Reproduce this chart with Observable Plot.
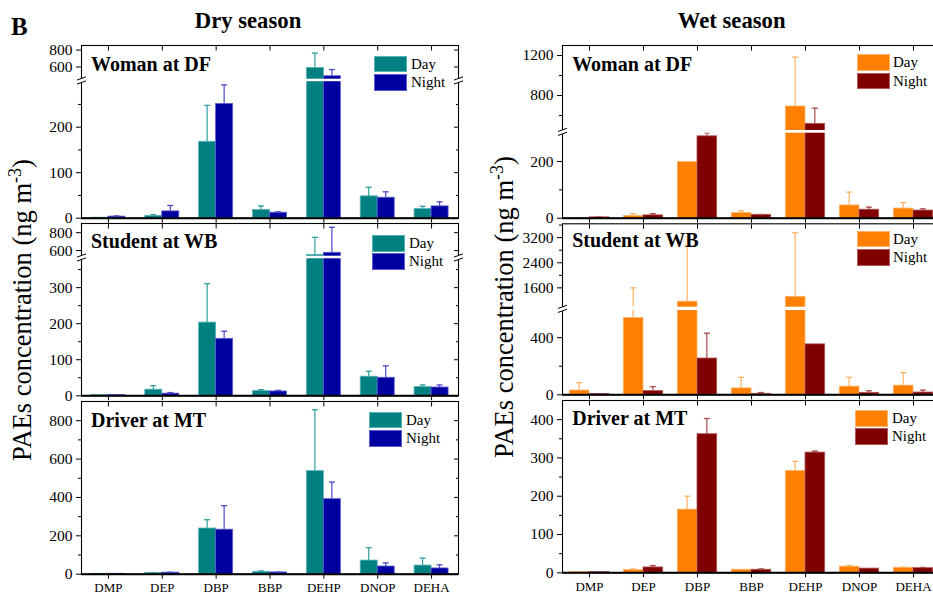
<!DOCTYPE html>
<html><head><meta charset="utf-8">
<script src="https://cdn.jsdelivr.net/npm/d3@7"></script>
<script src="https://cdn.jsdelivr.net/npm/@observablehq/plot@0.6"></script>
<style>
html,body{margin:0;padding:0;background:#fff;}
#fig{position:relative;width:933px;height:596px;overflow:hidden;font-family:"Liberation Serif","Times New Roman",serif;color:#000;background:#fff;}
.t{position:absolute;white-space:nowrap;font-family:"Liberation Serif","Times New Roman",serif;}
.ylab{position:absolute;white-space:nowrap;transform:translate(-50%,-50%) rotate(-90deg);font-family:"Liberation Serif","Times New Roman",serif;font-size:26.5px;line-height:1;}
.sw{position:absolute;box-sizing:border-box;border:1px solid;}
.lt{position:absolute;white-space:nowrap;font-size:15px;font-family:"Liberation Serif","Times New Roman",serif;}
.panel{position:absolute;}
</style></head>
<body><div id="fig"></div>
<script>
// ---------------- data ----------------
const categories = ["DMP","DEP","DBP","BBP","DEHP","DNOP","DEHA"];
const seasons = ["Dry season","Wet season"];
const sites = ["Woman at DF","Student at WB","Driver at MT"];
const seriesNames = ["Day","Night"];

// Dry season (mean, SD) in ng m-3
const dryDF_day      = [1, 5, 168, 18, 588, 48, 20];
const dryDF_daySD    = [0, 3, 80, 9, 176, 20, 6];
const dryDF_night    = [3.5, 15, 251, 12, 490, 45, 26];
const dryDF_nightSD  = [1.5, 13, 42, 2, 79, 13, 10];

const dryWB_day      = [2, 17, 203, 13, 552, 53, 24];
const dryWB_daySD    = [0, 11, 108, 4, 196, 15, 6];
const dryWB_night    = [2, 6, 158, 12, 575, 50, 23];
const dryWB_nightSD  = [0, 3, 21, 3, 285, 33, 7];

const dryMT_day      = [2, 7, 238, 12, 537, 71, 45];
const dryMT_daySD    = [0, 1, 46, 5, 320, 67, 39];
const dryMT_night    = [2, 8, 232, 9, 391, 40, 30];
const dryMT_nightSD  = [0, 2, 125, 2, 89, 19, 19];

// Wet season
const wetDF_day      = [1, 8, 198, 18, 690, 45, 34];
const wetDF_daySD    = [0, 8, 0, 8, 493, 47, 21];
const wetDF_night    = [3, 10, 289, 12, 517, 30, 27];
const wetDF_nightSD  = [1, 6, 34, 1, 156, 9, 6];

const wetWB_day      = [30, 537, 1160, 45, 1316, 57, 64];
const wetWB_daySD    = [55, 1063, 1790, 77, 2044, 65, 91];
const wetWB_night    = [5, 26, 254, 7, 353, 14, 16];
const wetWB_nightSD  = [2, 31, 177, 9, 0, 14, 17];

const wetMT_day      = [2, 7, 165, 8, 266, 16, 13];
const wetMT_daySD    = [0, 3, 35, 0, 25, 3, 2];
const wetMT_night    = [2, 14, 362, 8, 314, 11, 12];
const wetMT_nightSD  = [0, 5, 41, 2, 4, 0, 2];

// axis domains (broken axes: lower segment end, upper segment start)
const dryDF_domain = [0, 300, 455, 854];
const dryWB_domain = [0, 380, 537, 903];
const dryMT_domain = [0, 900];
const wetDF_domain = [0, 300, 450, 1300];
const wetWB_domain = [0, 590, 985, 3640];
const wetMT_domain = [0, 450];

const dryDF_ticks = [0, 100, 200, 600, 800], dryDF_minor = [50, 150, 250];
const dryWB_ticks = [0, 100, 200, 300, 600, 800], dryWB_minor = [50, 150, 250, 350];
const dryMT_ticks = [0, 200, 400, 600, 800], dryMT_minor = [100, 300, 500, 700];
const wetDF_ticks = [0, 200, 800, 1200], wetDF_minor = [100, 600, 1000];
const wetWB_ticks = [0, 400, 1600, 2400, 3200], wetWB_minor = [200, 2000, 2800, 3600];
const wetMT_ticks = [0, 100, 200, 300, 400], wetMT_minor = [50, 150, 250, 350];

// ---------------- styles / layout ----------------
const colors = {
  dry: {day: "#008080", night: "#0000a0", dayEdge: "#55b4b4", nightEdge: "#5a5ad2", dayErr: "#30a0a0", nightErr: "#4a4ac8"},
  wet: {day: "#ff8000", night: "#800000", dayEdge: "#ffb366", nightEdge: "#b05858", dayErr: "#ffb266", nightErr: "#a84c4c"}
};
const colGeom = [
  {left: 0, W: 470, ml: 81, mr: 12, barW: 17},
  {left: 470, W: 480, ml: 92, mr: 10, barW: 19.7}
];
const rowGeom = [{svgTop: 0, H: 232}, {svgTop: 212, H: 195}, {svgTop: 392, H: 204}];

// pixel positions (page) of the axis segments, matching the domains above
const panels = [
  {col: 0, row: 0, day: dryDF_day, daySD: dryDF_daySD, night: dryDF_night, nightSD: dryDF_nightSD,
   domain: dryDF_domain, px: [217.7, 81.2, 78.7, 45], ticks: dryDF_ticks, minor: dryDF_minor,
   labelDy: 10.8, leg: {x: 374, y: 55.7, tx: 411}},
  {col: 0, row: 1, day: dryWB_day, daySD: dryWB_daySD, night: dryWB_night, nightSD: dryWB_nightSD,
   domain: dryWB_domain, px: [395.3, 258.3, 255.7, 223], ticks: dryWB_ticks, minor: dryWB_minor,
   labelDy: 10.3, leg: {x: 372.3, y: 235, tx: 409}},
  {col: 0, row: 2, day: dryMT_day, daySD: dryMT_daySD, night: dryMT_night, nightSD: dryMT_nightSD,
   domain: dryMT_domain, px: [573.7, 401], ticks: dryMT_ticks, minor: dryMT_minor,
   labelDy: 10.8, leg: {x: 369.3, y: 411.7, tx: 406}},
  {col: 1, row: 0, day: wetDF_day, daySD: wetDF_daySD, night: wetDF_night, nightSD: wetDF_nightSD,
   domain: wetDF_domain, px: [217.7, 132.7, 130, 45], ticks: wetDF_ticks, minor: wetDF_minor,
   labelDy: 10.8, leg: {x: 856.7, y: 54.3, tx: 893}},
  {col: 1, row: 1, day: wetWB_day, daySD: wetWB_daySD, night: wetWB_night, nightSD: wetWB_nightSD,
   domain: wetWB_domain, px: [394.3, 310, 306.7, 223.3], ticks: wetWB_ticks, minor: wetWB_minor,
   labelDy: 8.5, leg: {x: 856.7, y: 230.7, tx: 893}},
  {col: 1, row: 2, day: wetMT_day, daySD: wetMT_daySD, night: wetMT_night, nightSD: wetMT_nightSD,
   domain: wetMT_domain, px: [572.3, 400], ticks: wetMT_ticks, minor: wetMT_minor,
   labelDy: 9.8, leg: {x: 855, y: 410, tx: 892}}
];

const fig = document.getElementById("fig");

function addText(html, x, baseline, fs, opts = {}) {
  const d = document.createElement("div");
  d.className = "t";
  d.innerHTML = html;
  d.style.fontSize = fs + "px";
  d.style.lineHeight = fs + "px";
  d.style.top = (baseline - 0.8375 * fs) + "px";
  d.style.left = x + "px";
  if (opts.bold) d.style.fontWeight = "bold";
  if (opts.center) d.style.transform = "translateX(-50%)";
  fig.appendChild(d);
  return d;
}

// custom symbols for the axis-break marks
const breakSlashes = {draw(ctx) {
  ctx.moveTo(-4.5, 3.6); ctx.lineTo(4.5, 0.4);
  ctx.moveTo(-4.5, -0.4); ctx.lineTo(4.5, -3.6);
}};
const breakGap = {draw(ctx) { ctx.rect(-2.2, -2.2, 4.4, 4.4); }};

function makePanel(p) {
  const cg = colGeom[p.col], rg = rowGeom[p.row];
  const c = p.col === 0 ? colors.dry : colors.wet;
  const fw = cg.W - cg.ml - cg.mr;
  const bw = fw / categories.length, half = bw / 2, barW = cg.barW;
  const dayC = half - barW / 2, nightC = half + barW / 2;
  const errW = 1.2, capW = 6;
  const rows = categories.map((cat, i) => ({cat, day: p.day[i], daySD: p.daySD[i], night: p.night[i], nightSD: p.nightSD[i]}));
  const dErr = rows.filter(d => d.daySD > 0), nErr = rows.filter(d => d.nightSD > 0);
  const zero = p.px[0], top = p.px[p.px.length - 1];
  const mt = top - rg.svgTop, mb = rg.svgTop + rg.H - zero;
  // broken axis: values -> height above the zero line (piecewise linear); the Plot y scale is then linear
  const B = d3.scaleLinear().domain(p.domain).range(p.px.map(v => zero - v));
  const isBottom = p.row === 2;
  const brk = p.domain.length === 4 ? [p.domain[1], p.domain[2]] : null;
  const tickLabel = new Map(p.ticks.map(v => [B(v), String(v)]));

  const marks = [
    Plot.barY(rows, {x: "cat", y: d => B(d.day), fill: c.day, stroke: c.dayEdge, strokeWidth: 0.8, insetLeft: half - barW, insetRight: half}),
    Plot.barY(rows, {x: "cat", y: d => B(d.night), fill: c.night, stroke: c.nightEdge, strokeWidth: 0.8, insetLeft: half, insetRight: half - barW}),
    Plot.barY(dErr, {x: "cat", y1: d => B(d.day), y2: d => B(d.day + d.daySD), fill: c.dayErr, insetLeft: dayC - errW / 2, insetRight: bw - dayC - errW / 2}),
    Plot.barY(nErr, {x: "cat", y1: d => B(d.night), y2: d => B(d.night + d.nightSD), fill: c.nightErr, insetLeft: nightC - errW / 2, insetRight: bw - nightC - errW / 2}),
    Plot.tickY(dErr, {x: "cat", y: d => B(d.day + d.daySD), stroke: c.dayErr, strokeWidth: 1.3, insetLeft: dayC - capW / 2, insetRight: bw - dayC - capW / 2}),
    Plot.tickY(nErr, {x: "cat", y: d => B(d.night + d.nightSD), stroke: c.nightErr, strokeWidth: 1.3, insetLeft: nightC - capW / 2, insetRight: bw - nightC - capW / 2})
  ];
  if (brk) marks.push(Plot.rect([brk], {y1: d => B(d[0]), y2: d => B(d[1]), fill: "white"}));
  marks.push(
    Plot.frame({stroke: "black", strokeWidth: 1.1}),
    Plot.ruleY([0], {stroke: "black", strokeWidth: 1.9}),
    Plot.axisY({ticks: p.ticks.map(B), tickSize: 5, tickPadding: 4, tickFormat: t => tickLabel.get(t) ?? "", label: null, fontSize: 15.5}),
    Plot.axisY({ticks: p.minor.map(B), tickSize: 3, tickFormat: () => "", label: null}),
    Plot.axisY({ticks: p.ticks.map(B), anchor: "right", tickSize: 5, dx: -5, tickFormat: () => "", label: null}),
    Plot.axisY({ticks: p.minor.map(B), anchor: "right", tickSize: 3, dx: -3, tickFormat: () => "", label: null}),
    Plot.axisX({tickSize: 5, tickPadding: 4, label: null, fontSize: 13, tickFormat: isBottom ? (d => d) : (() => "")}),
    Plot.axisX({anchor: "top", tickSize: 4.5, dy: 4.5, label: null, tickFormat: () => ""}),
    Plot.text([sites[p.row]], {frameAnchor: "top-left", text: d => d, dx: p.col === 0 ? 9.5 : 9.7, dy: p.labelDy,
      textAnchor: "start", lineAnchor: "top", fontWeight: "bold", fontSize: 20})
  );
  if (brk) {
    const mid = [(brk[0] + brk[1]) / 2];
    for (const fa of ["left", "right"]) {
      marks.push(
        Plot.dot(mid, {y: d => B(d), frameAnchor: fa, symbol: breakGap, r: 3, fill: "white", stroke: "none"}),
        Plot.dot(mid, {y: d => B(d), frameAnchor: fa, symbol: breakSlashes, r: 3, fill: "none", stroke: "black", strokeWidth: 1})
      );
    }
  }

  const plot = Plot.plot({
    width: cg.W, height: rg.H,
    marginLeft: cg.ml, marginRight: cg.mr, marginTop: mt, marginBottom: mb,
    x: {domain: categories, padding: 0, round: false, label: null},
    y: {domain: [0, zero - top], label: null},
    style: {fontFamily: "'Liberation Serif', 'Times New Roman', serif", fontSize: "15.5px", background: "transparent",
            overflow: "visible", maxWidth: "none", color: "black"},
    marks
  });
  plot.classList.add("panel");
  plot.style.left = cg.left + "px";
  plot.style.top = rg.svgTop + "px";
  fig.appendChild(plot);

  // legend
  const L = p.leg, sw = 33, sh = 16.6, gap = 1.7;
  seriesNames.forEach((name, k) => {
    const y = L.y + k * (sh + gap);
    const s = document.createElement("div");
    s.className = "sw";
    s.style.left = L.x + "px"; s.style.top = y + "px";
    s.style.width = sw + "px"; s.style.height = sh + "px";
    s.style.background = k === 0 ? c.day : c.night;
    s.style.borderColor = k === 0 ? c.dayEdge : c.nightEdge;
    fig.appendChild(s);
    const t = document.createElement("div");
    t.className = "lt";
    t.textContent = name;
    t.style.left = L.tx + "px"; t.style.top = y + "px";
    t.style.lineHeight = sh + "px";
    fig.appendChild(t);
  });
}

panels.forEach(makePanel);

// titles and axis labels
addText("B", 11, 35, 25, {bold: true});
addText(seasons[0], 248, 29.3, 22.7, {bold: true, center: true});
addText(seasons[1], 731.7, 29.3, 22.7, {bold: true, center: true});
for (const [x, y] of [[22, 310], [504, 307]]) {
  const d = document.createElement("div");
  d.className = "ylab";
  d.innerHTML = "PAEs concentration (ng m<sup style='font-size:0.68em;vertical-align:0.55em;line-height:0'>-3</sup>)";
  d.style.left = x + "px"; d.style.top = y + "px";
  fig.appendChild(d);
}
</script>
</body></html>
